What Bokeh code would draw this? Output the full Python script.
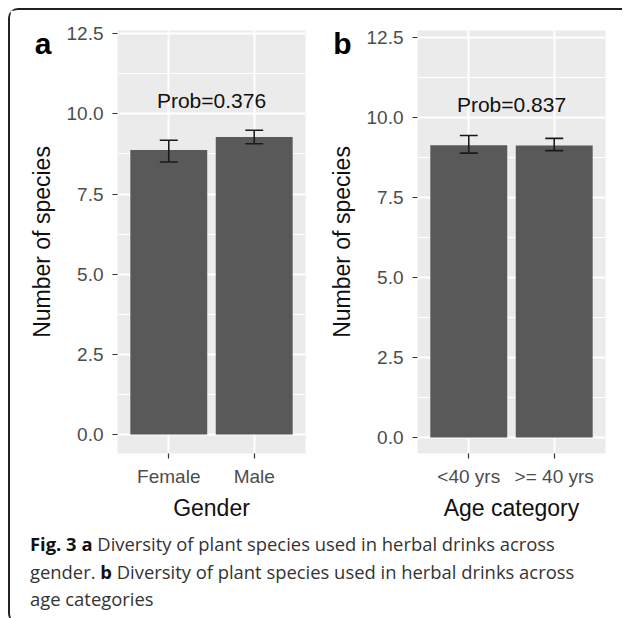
from bokeh.plotting import figure
from bokeh.models import Range1d, FixedTicker, Div, LinearAxis, NumeralTickFormatter
from bokeh.layouts import row, column
from bokeh.core.properties import value
from bokeh.embed import file_html
from bokeh.resources import INLINE

# ---- data ----
gender_cats = ["Female", "Male"]
gender_mean = [8.87, 9.28]
gender_low = [8.50, 9.07]
gender_high = [9.18, 9.49]
gender_prob = "Prob=0.376"

age_cats = ["<40 yrs", ">= 40 yrs"]
age_mean = [9.13, 9.12]
age_low = [8.88, 8.96]
age_high = [9.43, 9.34]
age_prob = "Prob=0.837"

y_ticks = [0, 2.5, 5, 7.5, 10, 12.5]
y_minor = [1.25, 3.75, 6.25, 8.75, 11.25]

FONT = "Liberation Sans"


def panel(letter, cats, mean, low, high, prob, xlabel, y_start, y_end, prob_y, letter_y,
          width, right):
    H = 515
    left, top, bottom = 107, 20, 72
    p = figure(width=width, height=H, x_range=Range1d(0.4, 2.6), y_range=Range1d(y_start, y_end),
               output_backend="svg", toolbar_location=None,
               min_border_left=left, min_border_right=right,
               min_border_top=top, min_border_bottom=bottom)
    p.background_fill_color = "#EBEBEB"
    p.border_fill_color = "white"
    p.outline_line_color = None

    xs = list(range(1, len(cats) + 1))
    p.xgrid.ticker = FixedTicker(ticks=xs)
    p.xgrid.grid_line_color = "white"
    p.xgrid.grid_line_width = 2
    p.ygrid.ticker = FixedTicker(ticks=y_ticks, minor_ticks=y_minor)
    p.ygrid.grid_line_color = "white"
    p.ygrid.grid_line_width = 2
    p.ygrid.minor_grid_line_color = "white"
    p.ygrid.minor_grid_line_width = 1

    p.xaxis.ticker = FixedTicker(ticks=xs)
    p.xaxis.major_label_overrides = {x: c for x, c in zip(xs, cats)}
    p.yaxis.ticker = FixedTicker(ticks=y_ticks)
    p.yaxis.formatter = NumeralTickFormatter(format="0.0")
    for ax in (p.xaxis[0], p.yaxis[0]):
        ax.axis_line_color = None
        ax.major_tick_line_color = "#333333"
        ax.major_tick_line_width = 1.2
        ax.major_tick_out = 5
        ax.major_tick_in = 0
        ax.minor_tick_line_color = None
        ax.major_label_text_font = FONT
        ax.major_label_text_font_size = "19px"
        ax.major_label_text_color = "#4D4D4D"
        ax.axis_label_text_font = FONT
        ax.axis_label_text_font_size = "23px"
        ax.axis_label_text_font_style = "normal"
        ax.axis_label_text_color = "#111111"
    p.xaxis.major_label_standoff = 7
    p.xaxis.axis_label_standoff = 5
    p.yaxis.major_label_standoff = 9
    p.yaxis.axis_label_standoff = 9
    p.xaxis.axis_label = xlabel
    p.yaxis.axis_label = "Number of species"

    p.vbar(x=xs, top=mean, bottom=0, width=0.9, fill_color="#595959", line_color=None)
    half = 0.105
    p.segment(x0=xs, y0=low, x1=xs, y1=high, line_color="#1A1A1A", line_width=1.6)
    p.segment(x0=[x - half for x in xs], y0=high, x1=[x + half for x in xs], y1=high,
              line_color="#1A1A1A", line_width=1.6)
    p.segment(x0=[x - half for x in xs], y0=low, x1=[x + half for x in xs], y1=low,
              line_color="#1A1A1A", line_width=1.6)

    p.text(x=[sum(xs) / len(xs)], y=[prob_y], text=[prob], text_font=value(FONT),
           text_font_size="21px", text_align="center", text_baseline="middle",
           text_color="#111111")

    # panel letter: an outer, line-less axis carrying a single labelled tick
    tag = LinearAxis(ticker=FixedTicker(ticks=[letter_y]),
                     major_label_overrides={letter_y: letter},
                     axis_line_color=None, major_tick_line_color=None,
                     minor_tick_line_color=None, major_tick_out=0, major_tick_in=0,
                     major_label_standoff=-26,
                     major_label_text_font=FONT, major_label_text_font_size="30px",
                     major_label_text_font_style="bold", major_label_text_color="black")
    p.add_layout(tag, "left")
    return p


pa = panel("a", gender_cats, gender_mean, gender_low, gender_high, gender_prob,
           "Gender", -0.59, 12.60, 10.42, 12.20, 300, 5)
pb = panel("b", age_cats, age_mean, age_low, age_high, age_prob,
           "Age category", -0.50, 12.71, 10.40, 12.31, 312, 17)

caption_html = (
    '<div style="font-family:\'Open Sans\';font-size:18.4px;line-height:27.5px;color:#333;'
    'padding-left:15px;padding-top:0px;white-space:nowrap;">'
    '<b style="color:#111">Fig. 3 a</b> Diversity of plant species used in herbal drinks across<br>'
    'gender. <b style="color:#111">b</b> Diversity of plant species used in herbal drinks across<br>'
    'age categories</div>'
)
cap = Div(text=caption_html, width=600, height=88)

layout = column(row(pa, pb), cap,
                styles={"margin-left": "8px", "margin-top": "8px",
                        "border-left": "2px solid #222", "border-top": "2px solid #222",
                        "border-top-left-radius": "10px", "border-bottom-left-radius": "10px"})

open("out.html", "w").write(file_html(layout, INLINE))
